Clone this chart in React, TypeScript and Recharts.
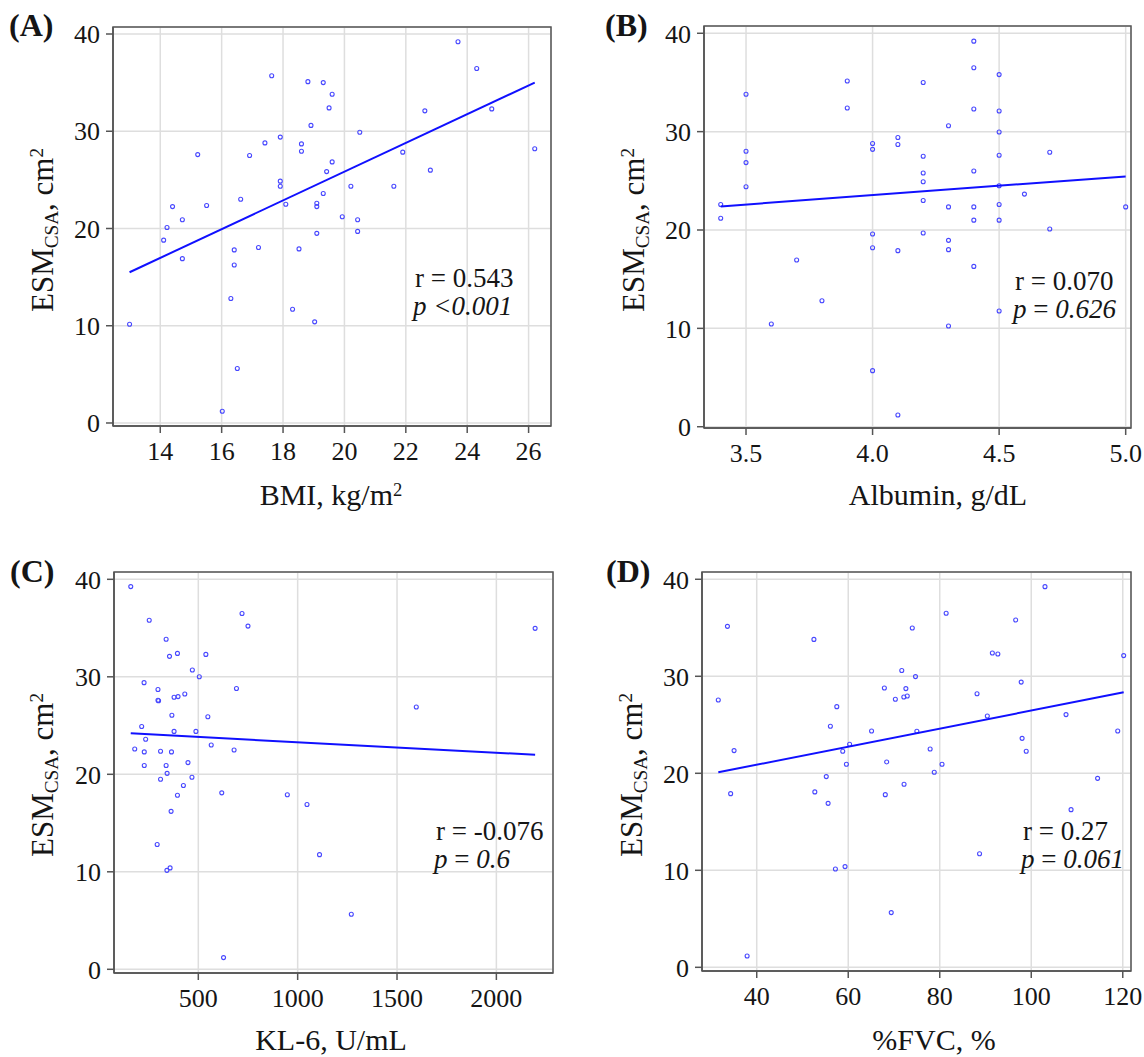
import React from "react";
import {
  ScatterChart,
  Scatter,
  XAxis,
  YAxis,
  CartesianGrid,
  ReferenceArea,
} from "recharts";

const SERIF = "'Liberation Serif', 'Times New Roman', serif";

// (A) BMI vs ESM CSA
const bmi = [
  13.0, 14.11, 14.22, 14.4, 14.72, 14.72, 15.22, 15.51, 16.02, 16.3, 16.41, 16.41, 16.51,
  16.62, 16.91, 17.2, 17.41, 17.63, 17.91, 17.91, 17.91, 18.09, 18.31, 18.52, 18.6, 18.6,
  18.81, 18.91, 19.03, 19.1, 19.1, 19.1, 19.31, 19.31, 19.42, 19.5, 19.6, 19.6, 19.93,
  20.21, 20.43, 20.43, 20.5, 21.61, 21.9, 22.62, 22.8, 23.7, 24.31, 24.8, 26.2,
];
const esmA = [
  10.15, 18.8, 20.1, 22.25, 20.9, 16.9, 27.6, 22.36, 1.2, 12.8, 17.8, 16.25, 5.6,
  23.0, 27.5, 18.05, 28.8, 35.7, 29.4, 24.87, 24.35, 22.5, 11.7, 17.9, 28.7, 27.95,
  35.1, 30.6, 10.4, 22.6, 22.25, 19.5, 35.0, 23.6, 25.85, 32.4, 33.8, 26.85, 21.2,
  24.35, 20.9, 19.7, 29.9, 24.35, 27.85, 32.1, 26.0, 39.2, 36.45, 32.3, 28.2,
];
const fitAx = [13.0, 26.2];
const fitAy = [15.5, 35.0];

// (B) Albumin vs ESM CSA
const albumin = [
  3.4, 3.4, 3.5, 3.5, 3.5, 3.5, 3.6, 3.7, 3.8, 3.9, 3.9, 4.0, 4.0, 4.0, 4.0, 4.0,
  4.1, 4.1, 4.1, 4.1, 4.2, 4.2, 4.2, 4.2, 4.2, 4.2, 4.3, 4.3, 4.3, 4.3, 4.3,
  4.4, 4.4, 4.4, 4.4, 4.4, 4.4, 4.4, 4.5, 4.5, 4.5, 4.5, 4.5, 4.5, 4.5, 4.5,
  4.6, 4.7, 4.7, 5.0,
];
const esmB = [
  22.6, 21.2, 33.8, 28.0, 26.85, 24.4, 10.44, 16.95, 12.8, 35.15, 32.4, 28.8, 28.2, 19.6, 18.2, 5.7,
  29.4, 28.7, 17.9, 1.19, 35.0, 27.5, 25.8, 24.9, 23.0, 19.7, 30.6, 22.35, 18.95, 18.0, 10.24,
  39.2, 36.5, 32.3, 26.0, 22.35, 21.0, 16.3, 35.8, 32.1, 29.96, 27.6, 24.5, 22.6, 21.0, 11.76,
  23.65, 27.9, 20.1, 22.35,
];
const fitBx = [3.4, 5.0];
const fitBy = [22.4, 25.45];

// (C) KL-6 vs ESM CSA
const kl6 = [
  160, 180, 215, 227, 228, 228, 235, 253, 293, 297, 297, 300, 310, 310, 338, 338, 342,
  343, 355, 358, 363, 365, 367, 378, 378, 395, 395, 398, 425, 432, 448, 468, 470, 488,
  505, 538, 548, 565, 618, 627, 680, 692, 720, 750, 948, 1047, 1110, 1270, 1597, 2195,
];
const esmC = [
  39.25, 22.6, 24.9, 29.4, 22.3, 20.9, 23.6, 35.8, 12.8, 28.7, 27.6, 27.55, 22.36, 19.5, 33.85, 20.9, 10.15,
  20.1, 32.1, 10.4, 16.2, 22.3, 26.05, 27.9, 24.4, 32.4, 17.85, 27.97, 18.85, 28.24, 21.2, 19.7, 30.7, 24.4,
  30.0, 32.3, 25.9, 23.0, 18.1, 1.2, 22.5, 28.8, 36.5, 35.2, 17.9, 16.9, 11.76, 5.64, 26.9, 34.97,
];
const fitCx = [160, 2195];
const fitCy = [24.2, 22.0];

// (D) %FVC vs ESM CSA
const fvc = [
  31.6, 33.6, 34.3, 35.05, 37.9, 52.5, 52.7, 55.2, 55.6, 56.1, 57.2, 57.5, 58.8, 59.3, 59.6,
  60.3, 65.1, 67.9, 68.1, 68.4, 69.4, 70.3, 71.7, 72.15, 72.2, 72.6, 72.9, 74.0, 74.7, 75.0,
  77.9, 78.8, 80.5, 81.4, 88.15, 88.7, 90.4, 91.5, 92.7, 96.6, 97.8, 98.0, 98.9, 103.0,
  107.6, 108.7, 114.5, 118.9, 120.2,
];
const esmD = [
  27.56, 35.15, 17.9, 22.34, 1.17, 33.8, 18.08, 19.66, 16.9, 24.85, 10.14, 26.87, 22.27, 10.38, 20.93,
  23.0, 24.36, 28.8, 17.8, 21.17, 5.64, 27.63, 30.6, 27.87, 18.87, 28.73, 27.97, 34.98, 29.97, 24.33,
  22.5, 20.1, 20.93, 36.5, 28.2, 11.7, 25.9, 32.4, 32.3, 35.8, 29.4, 23.6, 22.27, 39.24,
  26.05, 16.25, 19.48, 24.36, 32.13,
];
const fitDx = [31.6, 120.2];
const fitDy = [20.1, 28.35];

const yTicks = [0, 10, 20, 30, 40];
const bmiTicks = [14, 16, 18, 20, 22, 24, 26];
const albuminTicks = [3.5, 4.0, 4.5, 5.0];
const kl6Ticks = [500, 1000, 1500, 2000];
const fvcTicks = [40, 60, 80, 100, 120];

const AXIS = "#555";
const DOT = "#4747ff";

const Dot = (p: any) => (
  <circle cx={p.cx} cy={p.cy} r={2} fill="none" stroke={DOT} strokeWidth={1.1} />
);
const NoDot = () => <g />;

type PanelProps = {
  left: number;
  top: number;
  width: number;
  height: number;
  box: [number, number, number, number];
  xs: number[];
  ys: number[];
  fitX: number[];
  fitY: number[];
  xDomain: [number, number];
  yDomain: [number, number];
  xTicks: number[];
  xFmt?: (v: number) => string;
};

function Panel({
  left, top, width, height, box, xs, ys, fitX, fitY, xDomain, yDomain, xTicks, xFmt,
}: PanelProps) {
  const pts = xs.map((x, i) => ({ x, y: ys[i] }));
  const fit = fitX.map((x, i) => ({ x, y: fitY[i] }));
  const [x0, y0, x1, y1] = box;
  const tickStyle = { fontSize: 26, fill: "#151515", fontFamily: SERIF };
  return (
    <div style={{ position: "absolute", left, top }}>
      <ScatterChart
        width={width}
        height={height}
        margin={{ top: y0 - top, right: left + width - x1, bottom: 0, left: 0 }}
      >
        <CartesianGrid stroke="#dedede" strokeWidth={1.5} />
        <XAxis
          type="number"
          dataKey="x"
          domain={xDomain}
          ticks={xTicks}
          allowDataOverflow
          interval={0}
          height={top + height - y1}
          tickSize={7}
          tickMargin={9}
          tick={tickStyle}
          tickFormatter={xFmt}
          axisLine={{ stroke: AXIS, strokeWidth: 1.5 }}
          tickLine={{ stroke: AXIS, strokeWidth: 1.5 }}
        />
        <YAxis
          type="number"
          dataKey="y"
          domain={yDomain}
          ticks={yTicks}
          allowDataOverflow
          interval={0}
          width={x0 - left}
          tickSize={7}
          tickMargin={6}
          tick={tickStyle}
          axisLine={{ stroke: AXIS, strokeWidth: 1.5 }}
          tickLine={{ stroke: AXIS, strokeWidth: 1.5 }}
        />
        <ReferenceArea
          x1={xDomain[0]}
          x2={xDomain[1]}
          y1={yDomain[0]}
          y2={yDomain[1]}
          fill="none"
          stroke={AXIS}
          strokeWidth={1.5}
        />
        <Scatter data={pts} shape={Dot} isAnimationActive={false} />
        <Scatter
          data={fit}
          shape={NoDot}
          line={{ stroke: "#1010ff", strokeWidth: 2 }}
          isAnimationActive={false}
        />
      </ScatterChart>
    </div>
  );
}

const sub: React.CSSProperties = { fontSize: "0.62em", position: "relative", top: "0.28em" };
const sup: React.CSSProperties = { fontSize: "0.62em", position: "relative", top: "-0.5em" };

function YTitle({ cx, cy }: { cx: number; cy: number }) {
  return (
    <div
      style={{
        position: "absolute",
        left: cx,
        top: cy,
        fontSize: 31,
        lineHeight: 1,
        whiteSpace: "nowrap",
        transform: "translate(-50%, -50%) rotate(-90deg)",
      }}
    >
      ESM<span style={sub}>CSA</span>, cm<span style={sup}>2</span>
    </div>
  );
}

function XTitle({ cx, base, children }: { cx: number; base: number; children: React.ReactNode }) {
  return (
    <div
      style={{
        position: "absolute",
        left: cx,
        top: base - 25.1,
        fontSize: 30,
        lineHeight: 1,
        whiteSpace: "nowrap",
        transform: "translateX(-50%)",
      }}
    >
      {children}
    </div>
  );
}

function Note({ x, base, r, p }: { x: number; base: number; r: string; p: React.ReactNode }) {
  return (
    <div
      style={{
        position: "absolute",
        left: x,
        top: base - 23.1,
        fontSize: 27,
        lineHeight: "28px",
        whiteSpace: "nowrap",
      }}
    >
      {r}
      <br />
      <span style={{ marginLeft: -2 }}>{p}</span>
    </div>
  );
}

function Tag({ x, base, text }: { x: number; base: number; text: string }) {
  return (
    <div
      style={{
        position: "absolute",
        left: x,
        top: base - 26.8,
        fontSize: 32,
        lineHeight: 1,
        fontWeight: "bold",
      }}
    >
      {text}
    </div>
  );
}

export default function App() {
  return (
    <div
      style={{
        position: "absolute",
        left: 0,
        top: 0,
        width: 1144,
        height: 1057,
        background: "#fff",
        fontFamily: SERIF,
        color: "#151515",
        overflow: "hidden",
      }}
    >
      <Panel
        left={0} top={0} width={575} height={515}
        box={[113, 27, 551, 426]}
        xs={bmi} ys={esmA} fitX={fitAx} fitY={fitAy}
        xDomain={[12.46, 26.73]} yDomain={[-0.31, 40.72]} xTicks={bmiTicks}
      />
      <Panel
        left={580} top={0} width={564} height={515}
        box={[704, 26, 1131, 428]}
        xs={albumin} ys={esmB} fitX={fitBx} fitY={fitBy}
        xDomain={[3.334, 5.021]} yDomain={[-0.13, 40.74]} xTicks={albuminTicks}
        xFmt={(v) => v.toFixed(1)}
      />
      <Panel
        left={0} top={545} width={575} height={512}
        box={[114, 572, 553, 973]}
        xs={kl6} ys={esmC} fitX={fitCx} fitY={fitCy}
        xDomain={[75.7, 2285]} yDomain={[-0.38, 40.75]} xTicks={kl6Ticks}
      />
      <Panel
        left={580} top={545} width={564} height={512}
        box={[702, 572, 1131, 971]}
        xs={fvc} ys={esmD} fitX={fitDx} fitY={fitDy}
        xDomain={[28.04, 121.8]} yDomain={[-0.38, 40.75]} xTicks={fvcTicks}
      />

      <Tag x={9} base={36} text="(A)" />
      <Tag x={605} base={36} text="(B)" />
      <Tag x={10} base={582} text="(C)" />
      <Tag x={606} base={582} text="(D)" />

      <YTitle cx={42} cy={230} />
      <YTitle cx={633} cy={230} />
      <YTitle cx={42} cy={775} />
      <YTitle cx={631} cy={775} />

      <XTitle cx={331} base={505}>
        BMI, kg/m<span style={sup}>2</span>
      </XTitle>
      <XTitle cx={938} base={505}>Albumin, g/dL</XTitle>
      <XTitle cx={331} base={1050}>KL-6, U/mL</XTitle>
      <XTitle cx={934} base={1050}>%FVC, %</XTitle>

      <Note x={415} base={287} r="r = 0.543" p={<i>p &lt;0.001</i>} />
      <Note x={1015} base={290} r="r = 0.070" p={<><i>p</i> = <i>0.626</i></>} />
      <Note x={436} base={840} r="r = -0.076" p={<><i>p</i> = <i>0.6</i></>} />
      <Note x={1023} base={840} r="r = 0.27" p={<><i>p</i> = <i>0.061</i></>} />
    </div>
  );
}
